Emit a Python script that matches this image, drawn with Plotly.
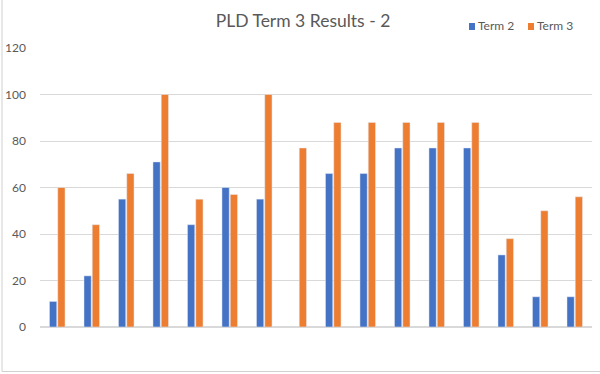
import plotly.graph_objects as go

categories = [f"C{i}" for i in range(1, 17)]
term2 = [11, 22, 55, 71, 44, 60, 55, None, 66, 66, 77, 77, 77, 31, 13, 13]
term3 = [60, 44, 66, 100, 55, 57, 100, 77, 88, 88, 88, 88, 88, 38, 50, 56]
y_ticks = [0, 20, 40, 60, 80, 100, 120]
series_names = ["Term 2", "Term 3"]
series_colors = ["#4472C4", "#ED7D31"]

W, H = 600, 374
L, R, T, B = 40, 8, 48, 47
pw, ph = W - L - R, H - T - B

def px_x(p):
    return (p - L) / pw

def px_y(p):
    return (H - B - p) / ph

fig = go.Figure()
for name, vals, col in zip(series_names, [term2, term3], series_colors):
    fig.add_trace(go.Bar(name=name, x=categories, y=vals, marker_color=col,
                         showlegend=False))

# legend drawn as small squares + text (compact Excel-style legend)
legend_x = [469, 528]
shapes = [dict(type="rect", xref="paper", yref="paper",
               x0=px_x(2), x1=px_x(620), y0=px_y(371.5), y1=px_y(-10),
               line=dict(color="#D0D0D0", width=1), fillcolor="rgba(0,0,0,0)",
               layer="below")]
annotations = []
for lx, name, col in zip(legend_x, series_names, series_colors):
    shapes.append(dict(type="rect", xref="paper", yref="paper",
                       x0=px_x(lx), x1=px_x(lx + 6), y0=px_y(30), y1=px_y(23),
                       line=dict(width=0), fillcolor=col))
    annotations.append(dict(text=name, xref="paper", yref="paper",
                            x=px_x(lx + 7), y=px_y(26), xanchor="left",
                            yanchor="middle", showarrow=False,
                            font=dict(size=12, color="#595959")))

fig.update_layout(
    width=W, height=H,
    margin=dict(l=L, r=R, t=T, b=B, autoexpand=False),
    paper_bgcolor="white", plot_bgcolor="white",
    font=dict(family="Lato, Open Sans, sans-serif", color="#595959", size=12),
    title=dict(text="PLD Term 3 Results - 2", x=303 / W, xanchor="center",
               y=1 - 21 / H, yanchor="middle",
               font=dict(size=17.5, color="#595959")),
    barmode="group", bargap=0.52, bargroupgap=0.12,
    xaxis=dict(showticklabels=False, showgrid=False, zeroline=False,
               showline=False, ticks="", automargin=False),
    yaxis=dict(range=[0, 120], tickvals=y_ticks, showgrid=True,
               gridcolor="#D9D9D9", gridwidth=1, zeroline=True,
               zerolinecolor="#D9D9D9", showline=False, ticks="",
               ticklabelstandoff=13, automargin=False,
               tickfont=dict(size=12, color="#595959")),
    shapes=shapes,
    annotations=annotations,
)

fig.write_html("out.html", config={"displayModeBar": False},
               post_script="document.body.style.margin='0';document.body.style.overflow='hidden';")
